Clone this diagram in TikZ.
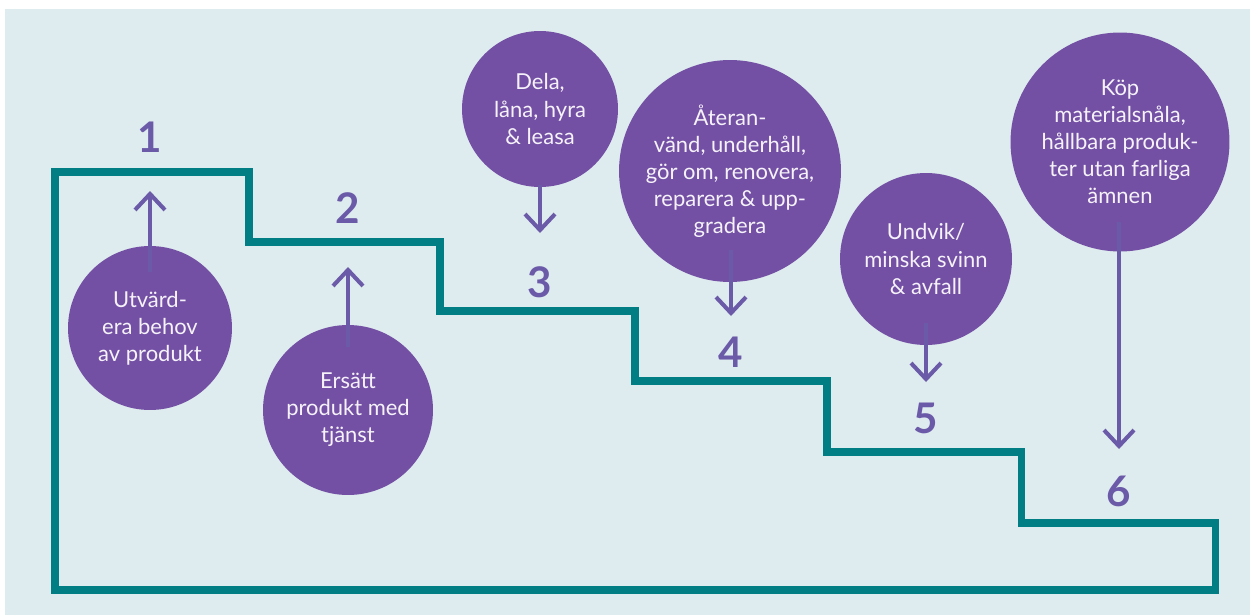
\documentclass[tikz,border=0pt]{standalone}
\usepackage{fontspec}
\setmainfont{Lato}
\usetikzlibrary{arrows.meta}
\definecolor{bgblue}{HTML}{DEEBEF}
\definecolor{stairteal}{HTML}{007E84}
\definecolor{discpurple}{HTML}{7350A4}
\definecolor{arrowpurple}{HTML}{6B5AA8}
\definecolor{disctext}{HTML}{F6F2FA}

\begin{document}
\begin{tikzpicture}[x=0.02cm,y=-0.02cm,
   stairline/.style={draw=stairteal,line width=4pt,line join=miter},
   disc/.style={circle,fill=discpurple,inner sep=0pt,minimum size=#1},
   disclabel/.style={text=disctext,align=center,font=\fontsize{12.5}{15.4}\selectfont},
   steplabel/.style={text=arrowpurple,font=\fontsize{24}{24}\selectfont\bfseries},
   movearrow/.style={draw=arrowpurple,line width=2.3pt,
      -{Straight Barb[length=0.32cm,width=0.6cm]}},
   ]
   \useasboundingbox (0,0) rectangle (1250,615);
   \fill[white] (0,0) rectangle (1250,615);
   \fill[bgblue] (5,9) rectangle (1250,615);
   % the stairs
   \draw[stairline] (55,172) -- (249,172) -- (249,242) -- (440,242) -- (440,311)
      -- (635,311) -- (635,381) -- (827,381) -- (827,452) -- (1021,452)
      -- (1021,523) -- (1215,523) -- (1215,590) -- (55,590) -- cycle;
   % steps
   \node[steplabel] (n1) at (150,137) {1};
   \node[steplabel] (n2) at (348,208) {2};
   \node[steplabel] (n3) at (540,282) {3};
   \node[steplabel] (n4) at (731,352) {4};
   \node[steplabel] (n5) at (926,418) {5};
   \node[steplabel] (n6) at (1119,491) {6};
   % discs
   \node[disc=3.28cm,label={[disclabel]center:Utvärd-\\era behov\\av produkt}] (c1) at (150,328) {};
   \node[disc=3.40cm,label={[disclabel]center:Ersätt\\produkt med\\tjänst}] (c2) at (348,410) {};
   \node[disc=3.12cm,label={[disclabel]center:Dela,\\låna, hyra\\\& leasa}] (c3) at (540,109) {};
   \node[disc=4.44cm,label={[disclabel]center:Återan-\\vänd, underhåll,\\gör om, renovera,\\reparera \& upp-\\gradera}] (c4) at (730,171) {};
   \node[disc=3.44cm,label={[disclabel]center:Undvik/\\minska svinn\\\& avfall}] (c5) at (926,259) {};
   \node[disc=4.38cm,label={[disclabel]center:Köp\\materialsnåla,\\hållbara produk-\\ter utan farliga\\ämnen}] (c6) at (1120,142) {};
   % arrows
   \coordinate (a1) at (150,272); \coordinate (b1) at (150,191);
   \coordinate (a2) at (348,347); \coordinate (b2) at (348,267);
   \coordinate (a3) at (540,185); \coordinate (b3) at (540,233);
   \coordinate (a4) at (731,250); \coordinate (b4) at (731,316);
   \coordinate (a5) at (926,323); \coordinate (b5) at (926,382);
   \coordinate (a6) at (1119,222); \coordinate (b6) at (1119,449);
   \foreach \i in {1,...,6}
      \draw[movearrow] (a\i) -- (b\i);
\end{tikzpicture}
\end{document}
